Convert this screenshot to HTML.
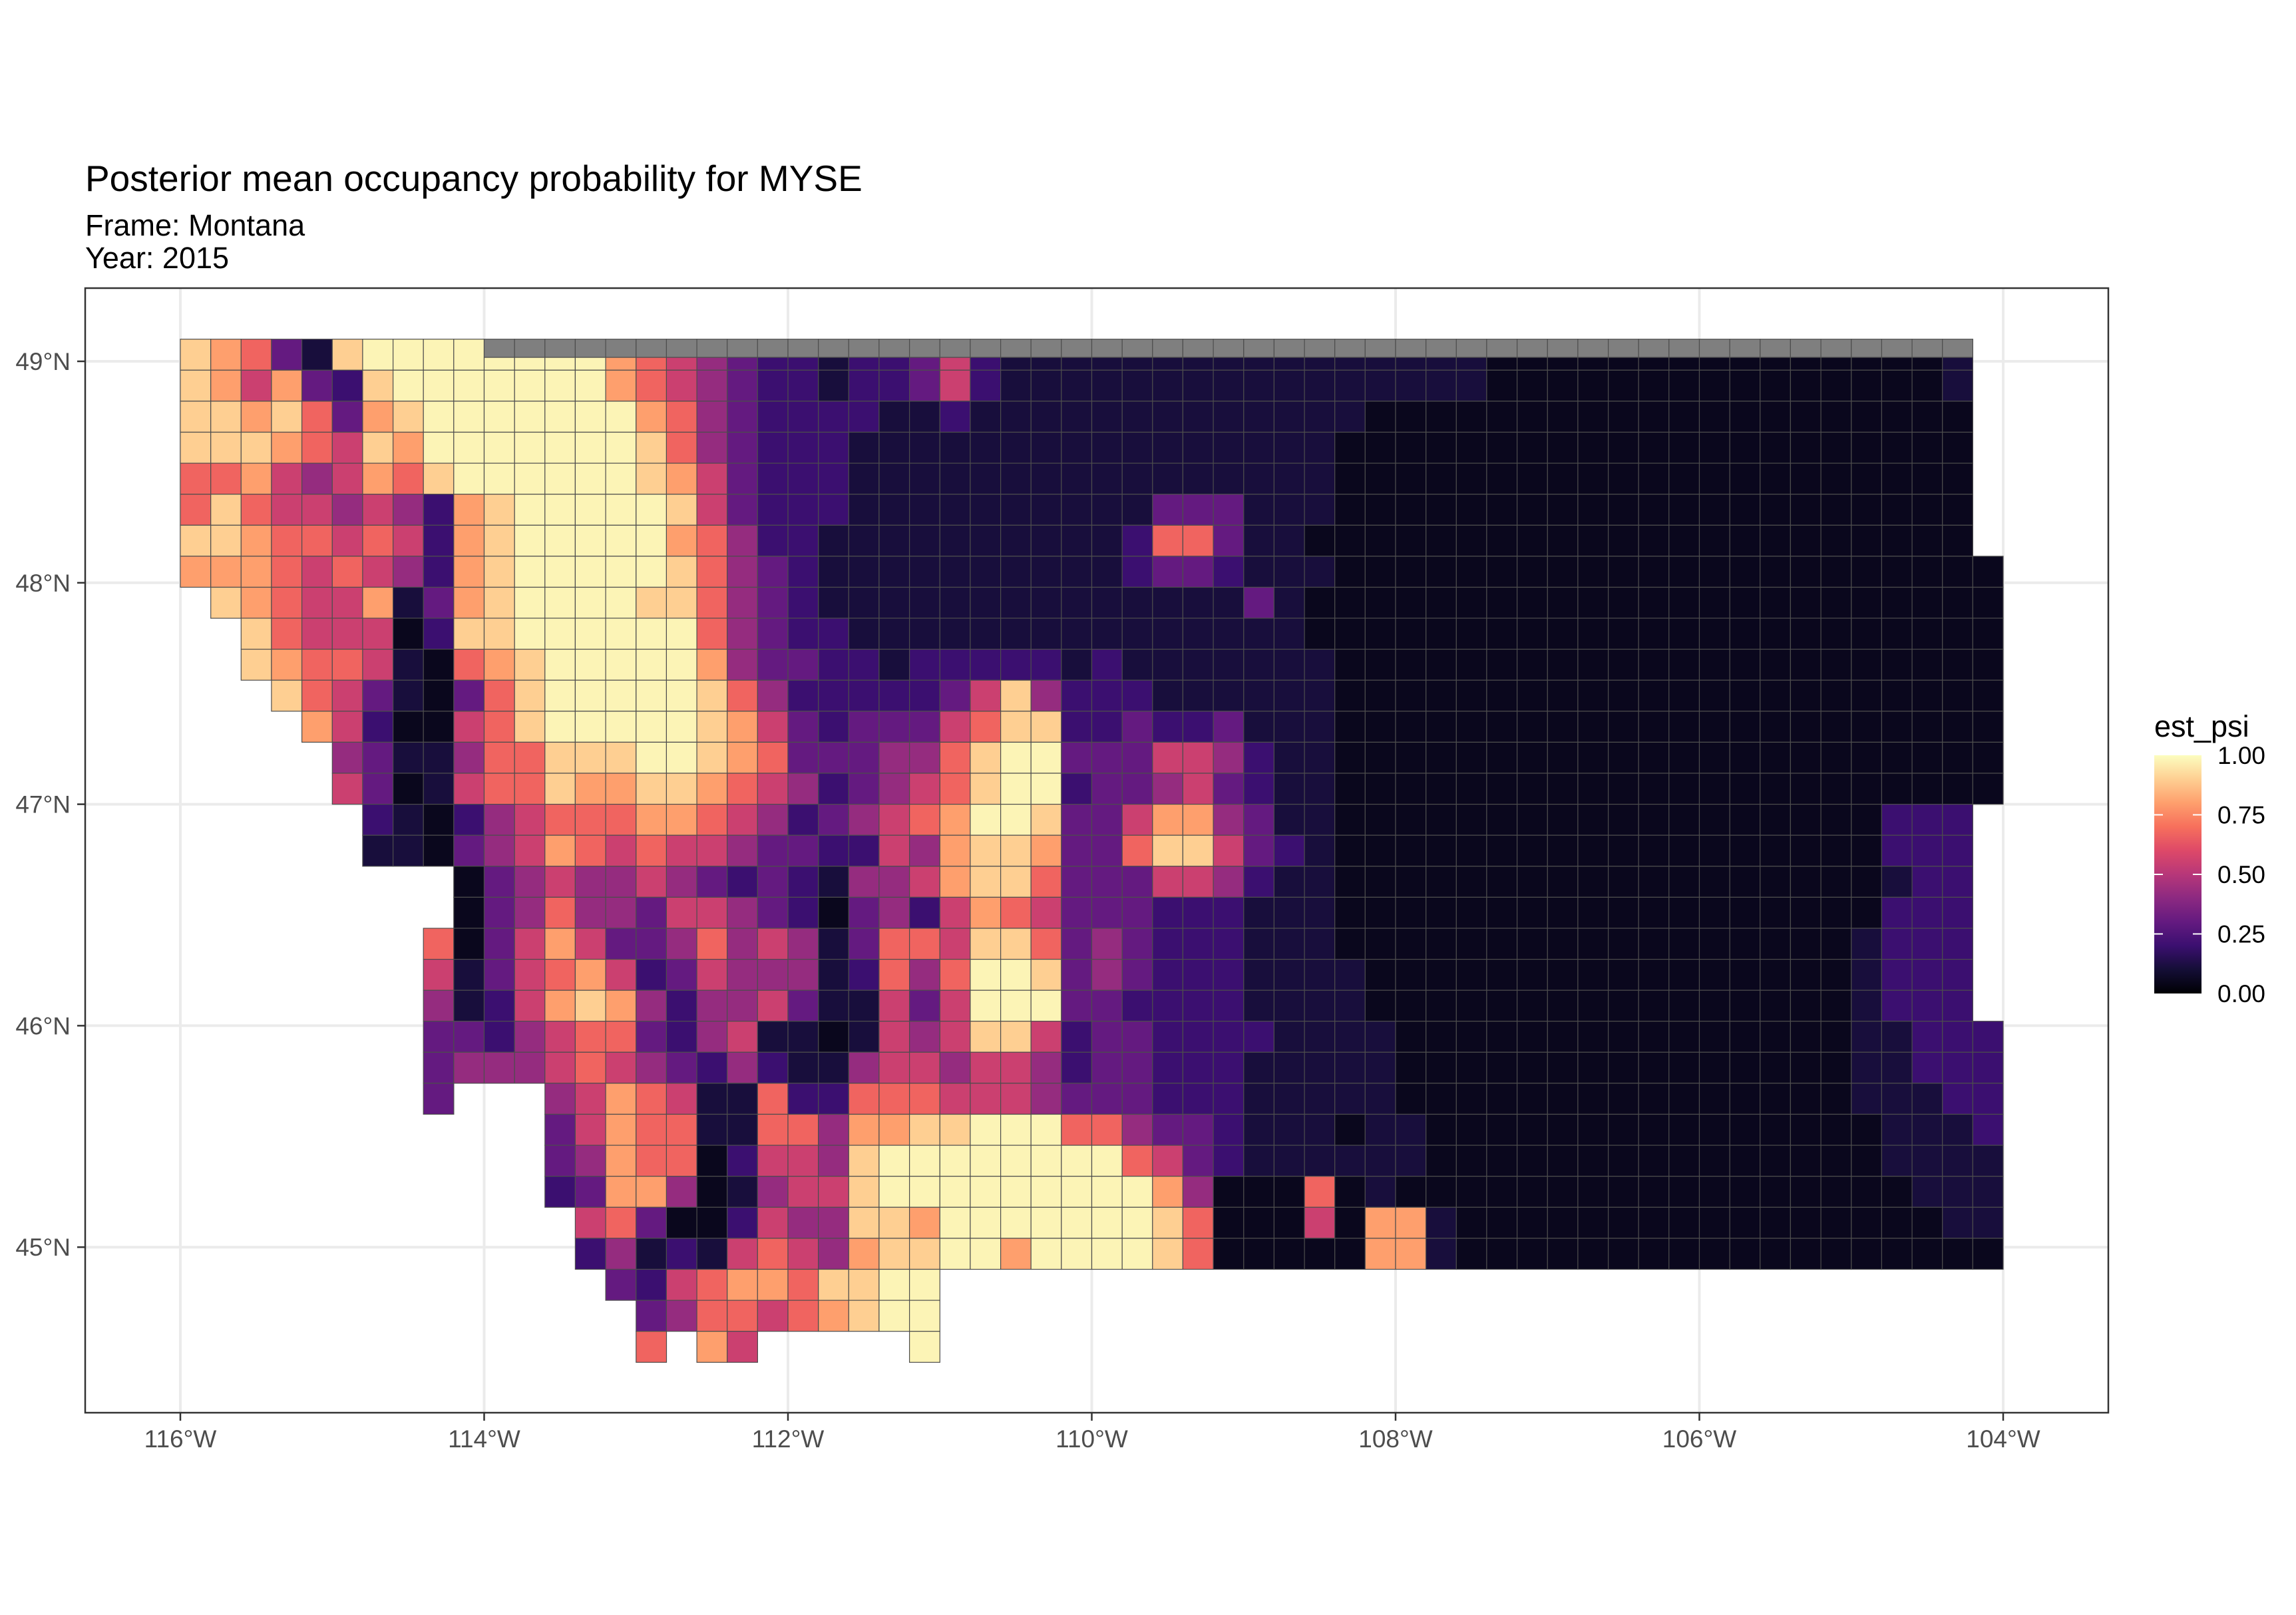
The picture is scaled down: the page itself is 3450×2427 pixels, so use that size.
<!DOCTYPE html>
<html><head><meta charset="utf-8">
<style>
html,body{margin:0;padding:0;background:#fff;}
svg{display:block;font-family:"Liberation Sans",Arial,sans-serif;}
</style></head>
<body>
<svg id="chart" xmlns="http://www.w3.org/2000/svg" width="3450" height="2427" viewBox="0 0 3450 2427">
<rect x="0" y="0" width="3450" height="2427" fill="#fff"/>
<text x="128" y="287" font-size="55" fill="#000">Posterior mean occupancy probability for MYSE</text>
<text x="128" y="354" font-size="45" fill="#000">Frame: Montana</text>
<text x="128" y="403" font-size="45" fill="#000">Year: 2015</text>
<g id="grid"></g>
<g id="cells"></g>
<rect x="128" y="433" width="3040" height="1690" fill="none" stroke="#333" stroke-width="2.5"/>
<g id="axes"></g>
<g id="legend">
<defs><linearGradient id="magma" x1="0" y1="1" x2="0" y2="0"></linearGradient></defs>
<text x="3237" y="1107" font-size="45" fill="#000">est_psi</text>
<rect x="3237" y="1135" width="71" height="358" fill="url(#magma)"/>
</g>
</svg>
<script>
// ---- data ----
const lonTicks = [-116, -114, -112, -110, -108, -106, -104];
const lonTickLabels = ["116°W","114°W","112°W","110°W","108°W","106°W","104°W"];
const latTicks = [45, 46, 47, 48, 49];
const latTickLabels = ["45°N","46°N","47°N","48°N","49°N"];
const legendTicks = [0, 0.25, 0.5, 0.75, 1];
const legendTickLabels = ["0.00","0.25","0.50","0.75","1.00"];
// digit levels -> est_psi value
const levels = [0.05, 0.11, 0.2, 0.3, 0.42, 0.55, 0.67, 0.8, 0.9, 0.98];
const gridLonStart = -116, gridLatTop = 49.1, cellLon = 0.2, cellLat = 0.14;
// rows: '.' empty, 'g' NA (grey), digits = levels index
const rows = [
"8763189999"+"gggggggggg"+"gggggggggg"+"gggggggggg"+"gggggggggg"+"ggggggggg.",
"8757328999"+"9999765432"+"2122352111"+"1111111111"+"1110000000"+"000000001.",
"8878637899"+"9999976432"+"2221121111"+"1111111110"+"0000000000"+"000000000.",
"8887658799"+"9999986432"+"2211111111"+"1111111100"+"0000000000"+"000000000.",
"6675457689"+"9999987532"+"2211111111"+"1111111100"+"0000000000"+"000000000.",
"6865545427"+"8999998532"+"2211111111"+"1133311100"+"0000000000"+"000000000.",
"8876656527"+"8999997642"+"2111111111"+"1266311000"+"0000000000"+"000000000.",
"7776565427"+"8999998643"+"2111111111"+"1233211100"+"0000000000"+"0000000000",
".876557137"+"8999988643"+"2111111111"+"1111131000"+"0000000000"+"0000000000",
"..86555028"+"8999999643"+"2211111111"+"1111111000"+"0000000000"+"0000000000",
"..87665106"+"7899999743"+"3221222221"+"2111111100"+"0000000000"+"0000000000",
"...8653103"+"6899999864"+"2222235842"+"2211111100"+"0000000000"+"0000000000",
"....752005"+"6899999875"+"3233356882"+"2322311100"+"0000000000"+"0000000000",
".....43114"+"6688899876"+"3334468993"+"3355421100"+"0000000000"+"0000000000",
".....53015"+"6687788765"+"4234568992"+"3345321100"+"0000000000"+"0000000000",
"......2102"+"4566677654"+"2345679983"+"3577431100"+"0000000000"+"000000222.",
"......1103"+"4576565543"+"3225478873"+"3688532100"+"0000000000"+"000000222.",
".........0"+"3454454323"+"2144578863"+"3355421100"+"0000000000"+"000000122.",
".........0"+"3464435543"+"2034257653"+"3322211100"+"0000000000"+"000000222.",
"........60"+"3575334645"+"4136658863"+"4322211100"+"0000000000"+"000001222.",
"........51"+"3567523544"+"4126469983"+"4322211110"+"0000000000"+"000001222.",
"........41"+"2578742445"+"3115359993"+"3222211110"+"0000000000"+"000001222.",
"........33"+"2456632451"+"1015458852"+"3322221111"+"0000000000"+"0000011222",
"........34"+"4456543242"+"1145545542"+"3322211111"+"0000000000"+"0000011222",
"........3."+"..45765116"+"2266655543"+"3322211111"+"0000000000"+"0000011122",
".........."+"..35766116"+"6477889996"+"6433211101"+"1000000000"+"0000001112",
".........."+"..34766025"+"5489999999"+"9653211111"+"1000000000"+"0000001111",
".........."+"..23774014"+"5589999999"+"9974000601"+"0000000000"+"0000000111",
".........."+"...5630025"+"4488799999"+"9986000507"+"7100000000"+"0000000011",
".........."+"...2412156"+"5478899799"+"9986000007"+"7100000000"+"0000000000",
".........."+"....325677"+"68899....."+".........."+".........."+"..........",
".........."+".....34665"+"67899....."+".........."+".........."+"..........",
".........."+".....6.75."+"....9....."+".........."+".........."+".........."
];
// ---- scales ----
function xScale(lon){ return 271 + (lon + 116) * 228.25; }
function yScale(lat){ return 543 + (49 - lat) * 332.8; }
const magmaStops = [[0,"#000004"],[0.1,"#140e36"],[0.2,"#3b0f70"],[0.3,"#641a80"],[0.4,"#8c2981"],[0.5,"#b73779"],[0.6,"#de4968"],[0.7,"#f7705c"],[0.8,"#fe9f6d"],[0.9,"#fecf92"],[1,"#fcfdbf"]];
function hex2rgb(h){return [parseInt(h.substr(1,2),16),parseInt(h.substr(3,2),16),parseInt(h.substr(5,2),16)];}
function magma(v){
  v=Math.max(0,Math.min(1,v));
  for(let i=0;i<magmaStops.length-1;i++){
    const a=magmaStops[i],b=magmaStops[i+1];
    if(v<=b[0]){const t=(v-a[0])/(b[0]-a[0]);const ca=hex2rgb(a[1]),cb=hex2rgb(b[1]);
      return "rgb("+ca.map((c,k)=>Math.round(c+(cb[k]-c)*t)).join(",")+")";}
  }
  return magmaStops[magmaStops.length-1][1];
}
const NS="http://www.w3.org/2000/svg";
function mk(tag,attrs,parent){const e=document.createElementNS(NS,tag);for(const k in attrs)e.setAttribute(k,attrs[k]);parent.appendChild(e);return e;}
// gridlines
const grid=document.getElementById("grid");
lonTicks.forEach(function(lon){
  const l=mk("line",{x1:xScale(lon),x2:xScale(lon),y1:433,y2:2123,stroke:"#ebebeb","stroke-width":4},grid);
  
  
});
latTicks.forEach(function(lat){
  const l=mk("line",{x1:128,x2:3168,y1:yScale(lat),y2:yScale(lat),stroke:"#ebebeb","stroke-width":4},grid);
  
  
});
// cells
const cellsG=document.getElementById("cells");
rows.forEach(function(row,r){
  for(let c=0;c<row.length;c++){
    const ch=row[c]; if(ch==='.') continue;
    const x0=xScale(gridLonStart+c*cellLon), x1=xScale(gridLonStart+(c+1)*cellLon);
    const y0=yScale(gridLatTop-r*cellLat), y1=yScale(gridLatTop-(r+1)*cellLat);
    if(ch==='g'){
      const ym=(y0+y1)/2+4;
      const below=rows[r+1][c];
      if(below!=='.'){
        const rb=mk("rect",{x:x0.toFixed(1),y:ym.toFixed(1),width:(x1-x0).toFixed(1),height:(y1-ym).toFixed(1),fill:magma(levels[+below]),stroke:"#4d4d4d","stroke-width":1.2},cellsG);
        
        
      }
      const rg=mk("rect",{x:x0.toFixed(1),y:y0.toFixed(1),width:(x1-x0).toFixed(1),height:(ym-y0).toFixed(1),fill:"#7f7f7f",stroke:"#4d4d4d","stroke-width":1.2},cellsG);
      
      
      continue;
    }
    const rc=mk("rect",{x:x0.toFixed(1),y:y0.toFixed(1),width:(x1-x0).toFixed(1),height:(y1-y0).toFixed(1),fill:magma(levels[+ch]),stroke:"#4d4d4d","stroke-width":1.2},cellsG);
    
    
  }
});
// axes
const axes=document.getElementById("axes");
lonTicks.forEach(function(lon,i){
  const t=mk("line",{x1:xScale(lon),x2:xScale(lon),y1:2123,y2:2135,stroke:"#333","stroke-width":2.5},axes);
  
  
  const tx=mk("text",{x:xScale(lon),y:2175,"font-size":37,fill:"#4d4d4d","text-anchor":"middle"},axes);
  tx.textContent=lonTickLabels[i];
  
  
});
latTicks.forEach(function(lat,i){
  const t=mk("line",{x1:116,x2:128,y1:yScale(lat),y2:yScale(lat),stroke:"#333","stroke-width":2.5},axes);
  
  
  const tx=mk("text",{x:106,y:yScale(lat)+13,"font-size":37,fill:"#4d4d4d","text-anchor":"end"},axes);
  tx.textContent=latTickLabels[i];
  
  
});
// legend
const grad=document.getElementById("magma");
magmaStops.forEach(function(s){mk("stop",{offset:s[0],"stop-color":s[1]},grad);});
const leg=document.getElementById("legend");
function lyScale(v){return 1493-v*358;}
legendTicks.forEach(function(v,i){
  if(v>0&&v<1){
    const a=mk("line",{x1:3237,x2:3250,y1:lyScale(v),y2:lyScale(v),stroke:"#fff","stroke-width":2},leg);
    
    
    const b=mk("line",{x1:3295,x2:3308,y1:lyScale(v),y2:lyScale(v),stroke:"#fff","stroke-width":2},leg);
    
    
  }
  const tx=mk("text",{x:3332,y:lyScale(v)+13,"font-size":37,fill:"#000"},leg);
  tx.textContent=legendTickLabels[i];
  
  
});
</script>
</body></html>
